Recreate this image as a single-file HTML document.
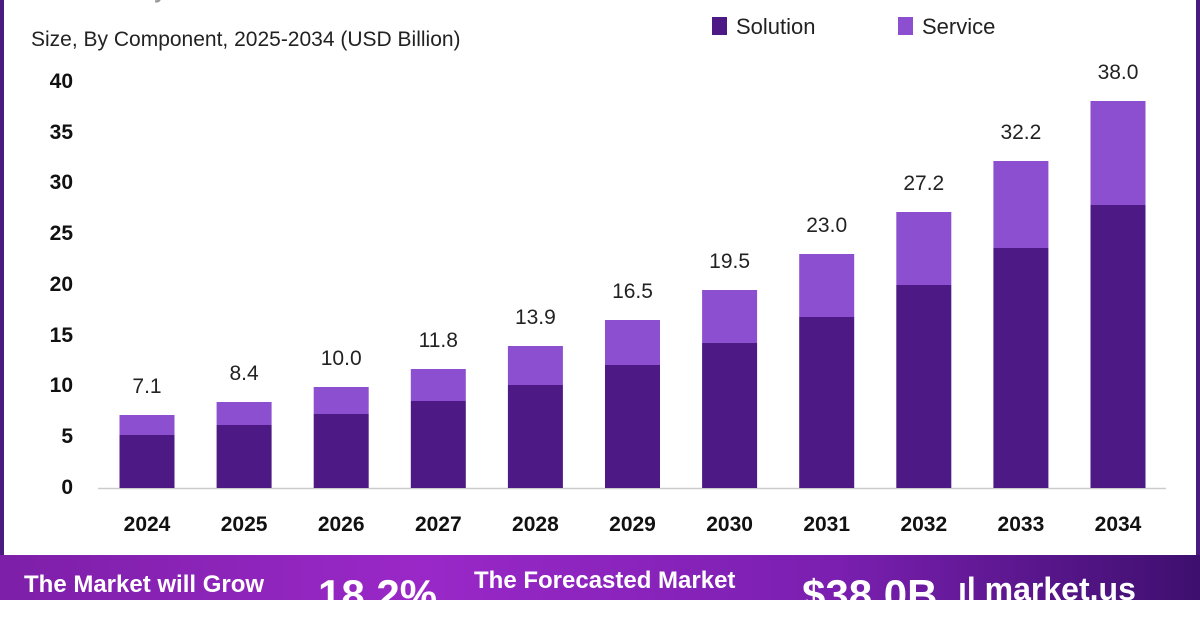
<!DOCTYPE html>
<html><head><meta charset="utf-8"><style>
html,body{margin:0;padding:0;background:#fff}
body{width:1200px;height:600px;overflow:hidden;position:relative;font-family:"Liberation Sans",sans-serif}
</style></head><body>
<svg width="1200" height="600" viewBox="0 0 1200 600" xmlns="http://www.w3.org/2000/svg" style="position:absolute;left:0;top:0">
<rect x="0" y="0" width="1200" height="600" fill="#fff"/>
<rect x="0" y="0" width="4" height="560" fill="#4a1a7e"/>
<rect x="1196" y="0" width="4" height="560" fill="#4a1a7e"/>
<text x="30" y="-2" font-size="22" fill="#999" font-weight="bold">Market Analysis</text>
<text x="31" y="46" font-size="21" fill="#222">Size, By Component, 2025-2034 (USD Billion)</text>
<rect x="712" y="17" width="15" height="18" fill="#4d1a85"/>
<text x="736" y="34" font-size="22" fill="#222">Solution</text>
<rect x="898" y="17" width="15" height="18" fill="#8b4fcf"/>
<text x="922" y="34" font-size="22" fill="#222">Service</text>
<g font-size="21" font-weight="bold" fill="#111" text-anchor="end">
<text x="73" y="88">40</text><text x="73" y="139">35</text><text x="73" y="189">30</text><text x="73" y="240">25</text><text x="73" y="291">20</text><text x="73" y="342">15</text><text x="73" y="392">10</text><text x="73" y="443">5</text><text x="73" y="494">0</text>
</g>
<line x1="98" y1="488.5" x2="1166" y2="488.5" stroke="#ccc" stroke-width="1.5"/>
<g id="bars"></g>
</svg>
<div style="position:absolute;left:0;top:555px;width:1200px;height:45px;background:linear-gradient(90deg,#7d1fa8,#9a28c8 35%,#7a1fb0 70%,#3e0f6e);color:#fff;font-weight:bold;white-space:nowrap">
<div style="position:absolute;left:24px;top:16px;font-size:24px">The Market will Grow</div>
<div style="position:absolute;left:318px;top:16px;font-size:42px">18.2%</div>
<div style="position:absolute;left:474px;top:12px;font-size:24px">The Forecasted Market</div>
<div style="position:absolute;left:802px;top:16px;font-size:42px">$38.0B</div>
<div style="position:absolute;left:958px;top:16px;font-size:32px">ıl market.us</div>
</div>
<script>
var sol=[435,425,414,401,385,365,343,317,285,248,205],tot=[415,402,387,369,346,320,290,254,212,161,101],lab=["7.1","8.4","10.0","11.8","13.9","16.5","19.5","23.0","27.2","32.2","38.0"];
var s="";for(var i=0;i<11;i++){var c=147+i*97.1,x=c-27.5;
s+='<rect x="'+x+'" y="'+tot[i]+'" width="55" height="'+(sol[i]-tot[i])+'" fill="#8b4fcf"/>';
s+='<rect x="'+x+'" y="'+sol[i]+'" width="55" height="'+(488-sol[i])+'" fill="#4d1a85"/>';
s+='<text x="'+c+'" y="'+(tot[i]-22)+'" font-size="21" fill="#222" text-anchor="middle">'+lab[i]+'</text>';
s+='<text x="'+c+'" y="531" font-size="21" font-weight="bold" fill="#111" text-anchor="middle">'+(2024+i)+'</text>';}
document.getElementById("bars").innerHTML=s;
</script>
</body></html>
